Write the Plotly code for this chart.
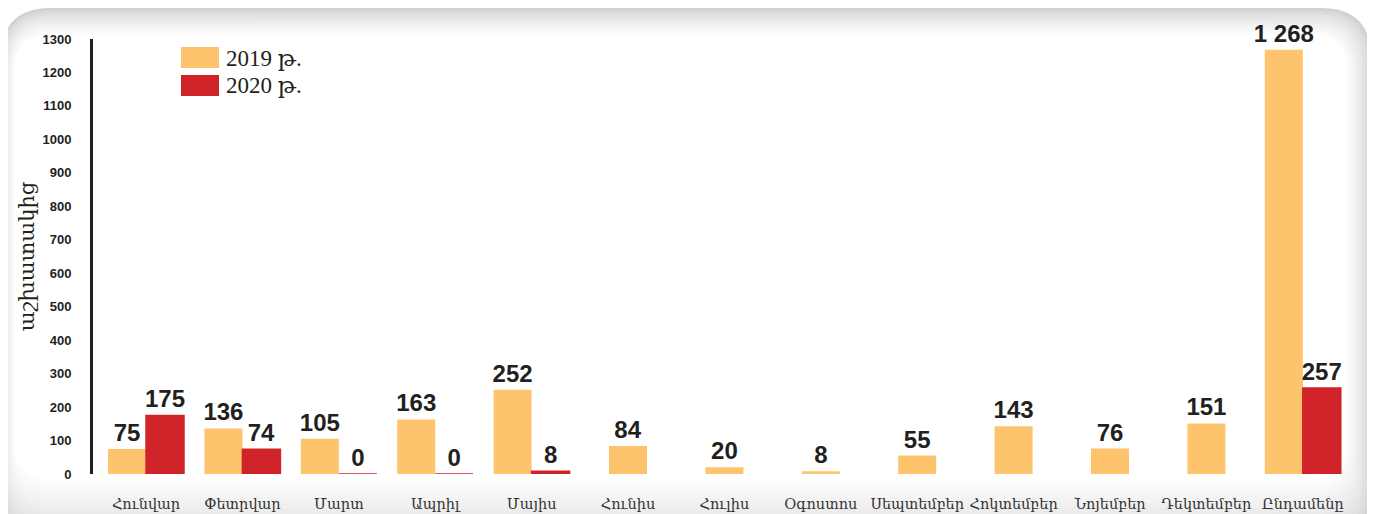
import plotly.graph_objects as go

categories = ["Հունվար", "Փետրվար", "Մարտ", "Ապրիլ", "Մայիս", "Հունիս", "Հուլիս",
              "Օգոստոս", "Սեպտեմբեր", "Հոկտեմբեր", "Նոյեմբեր", "Դեկտեմբեր", "Ընդամենը"]
values_2019 = [75, 136, 105, 163, 252, 84, 20, 8, 55, 143, 76, 151, 1268]
values_2020 = [175, 74, 0, 0, 8, None, None, None, None, None, None, None, 257]
series_names = ["2019 թ.", "2020 թ."]
y_ticks = list(range(0, 1301, 100))
y_title = "աշխատակից"

ORANGE = "#FDC46D"
RED = "#D1232A"
DARK = "#231F20"

OFF = 8  # default page body margin
W, H = 1375, 514
# target screen-pixel plot area: x 93..1351, y 39..474
L, T = 93 - OFF, 39 - OFF
R = W - (1351 - OFF)
B = H - (474 - OFF)
PW = W - L - R
PH = H - T - B
BW = 0.394


def fmt(v):
    return f"{v:,}".replace(",", " ")


def px_x(x):  # screen pixel -> paper
    return (x - OFF - L) / PW


def px_y(y):
    return (H - B - (y - OFF)) / PH


fig = go.Figure()

label_font = dict(family="Liberation Sans, Arial", size=24, color=DARK, weight="bold")

off19 = [-BW if v2 is not None else -BW / 2 for v2 in values_2020]
fig.add_trace(go.Bar(
    x=categories, y=values_2019, name=series_names[0],
    width=BW, offset=off19, marker=dict(color=ORANGE, line=dict(width=0)),
    text=[fmt(v) for v in values_2019], textposition="outside", constraintext="none",
    textfont=label_font, cliponaxis=False, showlegend=False,
))

x20 = [c for c, v in zip(categories, values_2020) if v is not None]
y20 = [v for v in values_2020 if v is not None]
fig.add_trace(go.Bar(
    x=x20, y=y20, name=series_names[1],
    width=BW, offset=0, marker=dict(color=RED, line=dict(width=1.5, color=RED)),
    text=[fmt(v) for v in y20], textposition="outside", constraintext="none",
    textfont=label_font, cliponaxis=False, showlegend=False,
))


def rrect(x0, y0, x1, y1, r):
    X = px_x
    Y = px_y
    return (f"M {X(x0 + r)},{Y(y0)} L {X(x1 - r)},{Y(y0)} Q {X(x1)},{Y(y0)} {X(x1)},{Y(y0 + r)} "
            f"L {X(x1)},{Y(y1 - r)} Q {X(x1)},{Y(y1)} {X(x1 - r)},{Y(y1)} "
            f"L {X(x0 + r)},{Y(y1)} Q {X(x0)},{Y(y1)} {X(x0)},{Y(y1 - r)} "
            f"L {X(x0)},{Y(y0 + r)} Q {X(x0)},{Y(y0)} {X(x0 + r)},{Y(y0)} Z")


shapes = []
N = 12
for i in range(N + 1):
    t = i / N
    c = int(0xD0 + (0xFF - 0xD0) * (t ** 0.7))
    col = f"rgb({c},{c},{c})"
    x0 = 1 + 1.1 * i
    x1 = 1371 - 2.0 * i
    y0 = 8 + 2.2 * i
    y1 = 548 - 5.7 * i
    r = 50 - 1.0 * i
    shapes.append(dict(type="path", xref="paper", yref="paper", path=rrect(x0, y0, x1, y1, r),
                       fillcolor=col, line=dict(width=0), layer="below"))

legend_colors = [ORANGE, RED]
annotations = []
for i, (nm, col) in enumerate(zip(series_names, legend_colors)):
    top = 47 + 28 * i
    shapes.append(dict(type="rect", xref="paper", yref="paper",
                       x0=px_x(181), x1=px_x(219), y0=px_y(top + 21), y1=px_y(top),
                       fillcolor=col, line=dict(width=0)))
    annotations.append(dict(xref="paper", yref="paper", x=px_x(224), y=px_y(top + 11),
                            xanchor="left", yanchor="middle", showarrow=False, text=nm,
                            font=dict(family="Liberation Serif, DejaVu Serif, serif", size=23, color=DARK)))

fig.update_layout(
    width=W, height=H,
    margin=dict(l=L, r=R, t=T, b=B),
    paper_bgcolor="white", plot_bgcolor="rgba(0,0,0,0)",
    barmode="overlay",
    shapes=shapes, annotations=annotations,
    xaxis=dict(type="category", categoryorder="array", categoryarray=categories,
               range=[-0.55, 12.5], showline=False, showgrid=False, zeroline=False,
               ticks="", ticklabelstandoff=19, automargin=False, tickangle=0,
               tickfont=dict(family="DejaVu Serif, serif", size=14.5, color="#333333")),
    yaxis=dict(range=[0, 1300], tickvals=y_ticks, showline=True, linecolor=DARK, linewidth=3,
               showgrid=False, zeroline=False, ticks="", ticklabelstandoff=16, automargin=False,
               tickfont=dict(family="Liberation Sans, Arial", size=13, color=DARK, weight="bold"),
               title=dict(text=y_title, standoff=3,
                          font=dict(family="DejaVu Serif, serif", size=21, color=DARK))),
    font=dict(family="Liberation Sans, Arial"),
)

fig.write_html("out.html")
